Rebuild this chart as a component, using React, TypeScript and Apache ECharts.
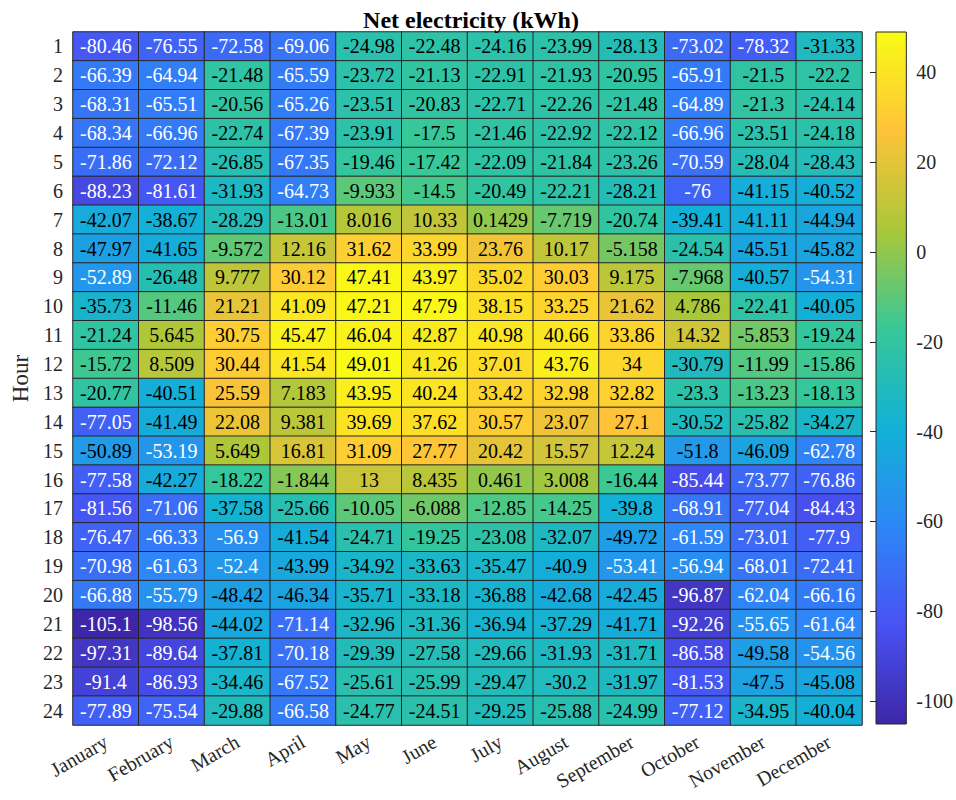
import React, { useEffect, useRef } from "react";
import * as echarts from "echarts";

const months = ["January", "February", "March", "April", "May", "June", "July", "August", "September", "October", "November", "December"];
const hours = Array.from({ length: 24 }, (_, i) => String(i + 1));

const january = [-80.46, -66.39, -68.31, -68.34, -71.86, -88.23, -42.07, -47.97, -52.89, -35.73, -21.24, -15.72, -20.77, -77.05, -50.89, -77.58, -81.56, -76.47, -70.98, -66.88, -105.1, -97.31, -91.4, -77.89];
const february = [-76.55, -64.94, -65.51, -66.96, -72.12, -81.61, -38.67, -41.65, -26.48, -11.46, 5.645, 8.509, -40.51, -41.49, -53.19, -42.27, -71.06, -66.33, -61.63, -55.79, -98.56, -89.64, -86.93, -75.54];
const march = [-72.58, -21.48, -20.56, -22.74, -26.85, -31.93, -28.29, -9.572, 9.777, 21.21, 30.75, 30.44, 25.59, 22.08, 5.649, -18.22, -37.58, -56.9, -52.4, -48.42, -44.02, -37.81, -34.46, -29.88];
const april = [-69.06, -65.59, -65.26, -67.39, -67.35, -64.73, -13.01, 12.16, 30.12, 41.09, 45.47, 41.54, 7.183, 9.381, 16.81, -1.844, -25.66, -41.54, -43.99, -46.34, -71.14, -70.18, -67.52, -66.58];
const may = [-24.98, -23.72, -23.51, -23.91, -19.46, -9.933, 8.016, 31.62, 47.41, 47.21, 46.04, 49.01, 43.95, 39.69, 31.09, 13, -10.05, -24.71, -34.92, -35.71, -32.96, -29.39, -25.61, -24.77];
const june = [-22.48, -21.13, -20.83, -17.5, -17.42, -14.5, 10.33, 33.99, 43.97, 47.79, 42.87, 41.26, 40.24, 37.62, 27.77, 8.435, -6.088, -19.25, -33.63, -33.18, -31.36, -27.58, -25.99, -24.51];
const july = [-24.16, -22.91, -22.71, -21.46, -22.09, -20.49, 0.1429, 23.76, 35.02, 38.15, 40.98, 37.01, 33.42, 30.57, 20.42, 0.461, -12.85, -23.08, -35.47, -36.88, -36.94, -29.66, -29.47, -29.25];
const august = [-23.99, -21.93, -22.26, -22.92, -21.84, -22.21, -7.719, 10.17, 30.03, 33.25, 40.66, 43.76, 32.98, 23.07, 15.57, 3.008, -14.25, -32.07, -40.9, -42.68, -37.29, -31.93, -30.2, -25.88];
const september = [-28.13, -20.95, -21.48, -22.12, -23.26, -28.21, -20.74, -5.158, 9.175, 21.62, 33.86, 34, 32.82, 27.1, 12.24, -16.44, -39.8, -49.72, -53.41, -42.45, -41.71, -31.71, -31.97, -24.99];
const october = [-73.02, -65.91, -64.89, -66.96, -70.59, -76, -39.41, -24.54, -7.968, 4.786, 14.32, -30.79, -23.3, -30.52, -51.8, -85.44, -68.91, -61.59, -56.94, -96.87, -92.26, -86.58, -81.53, -77.12];
const november = [-78.32, -21.5, -21.3, -23.51, -28.04, -41.15, -41.11, -45.51, -40.57, -22.41, -5.853, -11.99, -13.23, -25.82, -46.09, -73.77, -77.04, -73.01, -68.01, -62.04, -55.65, -49.58, -47.5, -34.95];
const december = [-31.33, -22.2, -24.14, -24.18, -28.43, -40.52, -44.94, -45.82, -54.31, -40.05, -19.24, -15.86, -18.13, -34.27, -62.78, -76.86, -84.43, -77.9, -72.41, -66.16, -61.64, -54.56, -45.08, -40.04];

const monthValues = [january, february, march, april, may, june, july, august, september, october, november, december];

const colorbarTicks = [-100, -80, -60, -40, -20, 0, 20, 40];

const parula = ["#3E26A8", "#4852F4", "#2D87F7", "#12B1D6", "#37C897", "#ABC739", "#FEC338", "#F9FB15"];

const SERIF = "'Liberation Serif', 'Times New Roman', serif";

export default function App() {
  const ref = useRef<HTMLDivElement>(null);

  useEffect(() => {
    if (!ref.current) return;
    const chart = echarts.init(ref.current, null, { renderer: "svg" });

    const all = monthValues.flat();
    const vmin = Math.min(...all);
    const vmax = Math.max(...all);

    const data: any[] = [];
    monthValues.forEach((arr, mi) => {
      arr.forEach((v, hi) => {
        data.push({
          value: [mi, hi, v],
          label: { color: v < -52 ? "#ffffff" : "#000000" },
        });
      });
    });

    const stops = parula.map((c, i) => ({ offset: i / (parula.length - 1), color: c }));

    chart.setOption({
      animation: false,
      backgroundColor: "#ffffff",
      textStyle: { fontFamily: SERIF },
      title: {
        text: "Net electricity (kWh)",
        left: 466,
        textAlign: "center",
        top: 3,
        textStyle: { fontFamily: SERIF, fontSize: 24, fontWeight: "bold", color: "#000" },
      },
      grid: [
        { left: 73, right: 94, top: 32, bottom: 75, show: false },
        {
          left: 876,
          width: 31,
          top: 32,
          bottom: 76,
          show: true,
          borderColor: "#262626",
          borderWidth: 1,
          backgroundColor: new echarts.graphic.LinearGradient(0, 1, 0, 0, stops),
        },
      ],
      xAxis: [
        {
          type: "category",
          data: months,
          gridIndex: 0,
          axisLine: { show: false },
          axisTick: { show: false },
          splitLine: { show: false },
          axisLabel: {
            rotate: 30,
            interval: 0,
            margin: 15,
            fontSize: 20,
            color: "#262626",
            fontFamily: SERIF,
          },
        },
        { type: "value", gridIndex: 1, show: false, min: 0, max: 1 },
      ],
      yAxis: [
        {
          type: "category",
          data: hours,
          gridIndex: 0,
          inverse: true,
          axisLine: { show: false },
          axisTick: { show: false },
          splitLine: { show: false },
          axisLabel: { fontSize: 20, margin: 10, color: "#262626", fontFamily: SERIF },
          name: "Hour",
          nameLocation: "middle",
          nameGap: 37,
          nameRotate: 90,
          nameTextStyle: { fontSize: 23, color: "#262626", fontFamily: SERIF },
        },
        {
          type: "value",
          gridIndex: 1,
          position: "right",
          min: vmin,
          max: vmax,
          axisLine: { show: false },
          splitLine: { show: false },
          axisTick: {
            show: true,
            inside: true,
            length: 6,
            lineStyle: { color: "#262626" },
            customValues: colorbarTicks,
          },
          axisLabel: {
            fontSize: 20,
            margin: 10,
            color: "#262626",
            fontFamily: SERIF,
            customValues: colorbarTicks,
          },
        },
      ],
      visualMap: {
        show: false,
        min: vmin,
        max: vmax,
        dimension: 2,
        seriesIndex: 0,
        inRange: { color: parula },
      },
      series: [
        {
          type: "heatmap",
          xAxisIndex: 0,
          yAxisIndex: 0,
          data,
          label: {
            show: true,
            fontSize: 20,
            fontFamily: SERIF,
            formatter: (p: any) => String(p.value[2]),
          },
          itemStyle: { borderColor: "#262626", borderWidth: 1 },
          emphasis: { disabled: true },
        },
      ],
    });

    return () => chart.dispose();
  }, []);

  return <div ref={ref} style={{ position: "absolute", left: 0, top: 0, width: 956, height: 800 }} />;
}
